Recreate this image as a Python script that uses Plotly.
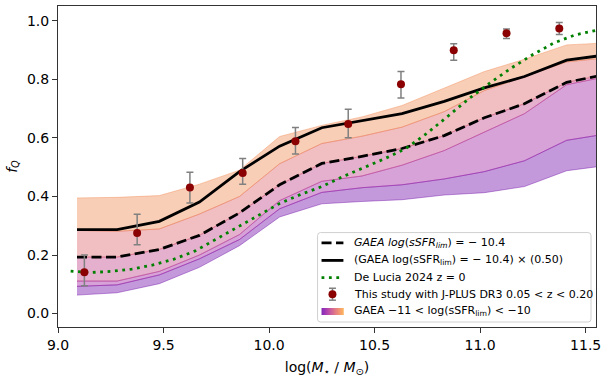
import plotly.graph_objects as go
from plotly.colors import sample_colorscale, unlabel_rgb

# ---- GAEA model: quenched fraction vs stellar mass --------------------------
gaea_logm = [9.09, 9.28, 9.48, 9.67, 9.86, 10.05, 10.25, 10.44, 10.63, 10.83,
             11.02, 11.21, 11.41, 11.60]

# f_Q for thresholds log(sSFR_lim) = -11, -10.8, -10.6, -10.4, -10.2, -10
fq_m110 = [0.063, 0.071, 0.102, 0.158, 0.232, 0.330, 0.375, 0.383, 0.389, 0.405,
           0.413, 0.434, 0.488, 0.506]
fq_m108 = [0.093, 0.098, 0.132, 0.187, 0.253, 0.358, 0.414, 0.430, 0.440, 0.460,
           0.485, 0.522, 0.592, 0.614]
fq_m106 = [0.111, 0.111, 0.144, 0.200, 0.270, 0.386, 0.452, 0.470, 0.507, 0.557,
           0.620, 0.683, 0.782, 0.810]
fq_m104 = [0.193, 0.193, 0.219, 0.267, 0.344, 0.440, 0.513, 0.537, 0.564, 0.608,
           0.669, 0.717, 0.790, 0.818]
fq_m102 = [0.284, 0.281, 0.289, 0.340, 0.400, 0.512, 0.581, 0.606, 0.637, 0.690,
           0.762, 0.809, 0.860, 0.874]
fq_m100 = [0.395, 0.397, 0.403, 0.442, 0.490, 0.605, 0.643, 0.672, 0.711, 0.770,
           0.827, 0.869, 0.918, 0.925]
gaea_levels = [fq_m110, fq_m108, fq_m106, fq_m104, fq_m102, fq_m100]

# rescaled GAEA curve (log sSFR_lim = -10.4, factor 0.50)
fq_scaled = [0.287, 0.287, 0.315, 0.381, 0.485, 0.572, 0.635, 0.659, 0.683, 0.725,
             0.771, 0.810, 0.866, 0.884]

# ---- De Lucia et al. 2024, z = 0 ---------------------------------------------
delucia_logm = [9.06, 9.15, 9.25, 9.35, 9.45, 9.55, 9.65, 9.75, 9.85, 9.95, 10.05,
                10.15, 10.25, 10.35, 10.45, 10.55, 10.65, 10.75, 10.85, 10.95,
                11.05, 11.15, 11.25, 11.35, 11.45, 11.55, 11.65]
delucia_fq = [0.145, 0.140, 0.144, 0.152, 0.166, 0.186, 0.214, 0.255, 0.295, 0.335,
              0.376, 0.407, 0.434, 0.468, 0.500, 0.530, 0.565, 0.617, 0.676, 0.736,
              0.790, 0.840, 0.885, 0.925, 0.952, 0.968, 0.975]

# ---- J-PLUS DR3 measurements, 0.05 < z < 0.20 -------------------------------
jplus_logm = [9.125, 9.375, 9.625, 9.875, 10.125, 10.375, 10.625, 10.875, 11.125, 11.375]
jplus_fq = [0.141, 0.275, 0.431, 0.480, 0.589, 0.648, 0.784, 0.900, 0.958, 0.974]
jplus_err_hi = [0.059, 0.064, 0.052, 0.050, 0.047, 0.050, 0.043, 0.022, 0.014, 0.021]
jplus_err_lo = [0.046, 0.040, 0.053, 0.038, 0.044, 0.047, 0.047, 0.034, 0.018, 0.020]

x_ticks = [9.0, 9.5, 10.0, 10.5, 11.0, 11.5]
y_ticks = [0.0, 0.2, 0.4, 0.6, 0.8, 1.0]

legend_labels = [
    "<i>GAEA log</i>(<i>sSFR</i><sub><i>lim</i></sub>) = − 10.4",
    "(GAEA log(sSFR<sub>lim</sub>) = − 10.4) × (0.50)",
    "De Lucia 2024 z = 0",
    "This study with J-PLUS DR3 0.05 < z < 0.20",
    "GAEA −11 < log(sSFR<sub>lim</sub>) < −10",
]

FONT = "DejaVu Sans"
W, H = 606, 378
ML, MR, MT, MB = 58, 7, 5, 50
PW, PH = W - ML - MR, H - MT - MB


def rgba(c, a):
    r, g, b = unlabel_rgb(c)
    return f"rgba({int(r)},{int(g)},{int(b)},{a})"


def px(xp):
    return (xp - ML) / PW


def py(yp):
    return (H - MB - yp) / PH


fig = go.Figure()

# shaded GAEA bands between successive sSFR thresholds
band_cols = sample_colorscale("Plasma", [0.2, 0.33, 0.45, 0.58, 0.70])
for i in range(len(gaea_levels) - 1):
    lo, hi = gaea_levels[i], gaea_levels[i + 1]
    col = rgba(band_cols[i], 0.4)
    fig.add_trace(go.Scatter(
        x=gaea_logm + gaea_logm[::-1], y=hi + lo[::-1],
        fill="toself", fillcolor=col, mode="lines",
        line=dict(color=col, width=1), hoverinfo="skip", showlegend=False))

fig.add_trace(go.Scatter(x=gaea_logm, y=fq_m104, mode="lines",
                         line=dict(color="black", width=2.8, dash="10px,4.5px"),
                         showlegend=False))
fig.add_trace(go.Scatter(x=gaea_logm, y=fq_scaled, mode="lines",
                         line=dict(color="black", width=2.8), showlegend=False))
fig.add_trace(go.Scatter(x=delucia_logm, y=delucia_fq, mode="lines",
                         line=dict(color="#008000", width=2.8, dash="2.8px,4.6px"),
                         showlegend=False))
fig.add_trace(go.Scatter(
    x=jplus_logm, y=jplus_fq, mode="markers",
    marker=dict(color="#8b0000", size=8),
    error_y=dict(type="data", symmetric=False, array=jplus_err_hi,
                 arrayminus=jplus_err_lo, color="#808080", thickness=1.5, width=3.5),
    showlegend=False))

# ---- legend box drawn by hand (needs a gradient patch) ----------------------
shapes = []
bx0, bx1, by0, by1, rr = 319, 594, 233, 323, 3
path = (f"M {px(bx0 + rr)} {py(by0)} L {px(bx1 - rr)} {py(by0)} "
        f"Q {px(bx1)} {py(by0)} {px(bx1)} {py(by0 + rr)} "
        f"L {px(bx1)} {py(by1 - rr)} Q {px(bx1)} {py(by1)} {px(bx1 - rr)} {py(by1)} "
        f"L {px(bx0 + rr)} {py(by1)} Q {px(bx0)} {py(by1)} {px(bx0)} {py(by1 - rr)} "
        f"L {px(bx0)} {py(by0 + rr)} Q {px(bx0)} {py(by0)} {px(bx0 + rr)} {py(by0)} Z")
shapes.append(dict(type="path", xref="paper", yref="paper", path=path,
                   fillcolor="rgba(255,255,255,0.8)", line=dict(color="#d0d0d0", width=1)))

rows = [243.3, 261.0, 278.3, 295.0, 312.3]
hx0, hx1 = 323, 345
shapes.append(dict(type="line", xref="paper", yref="paper", x0=px(hx0), x1=px(hx1),
                   y0=py(rows[0]), y1=py(rows[0]),
                   line=dict(color="black", width=2.8, dash="10px,4.5px")))
shapes.append(dict(type="line", xref="paper", yref="paper", x0=px(hx0), x1=px(hx1),
                   y0=py(rows[1]), y1=py(rows[1]), line=dict(color="black", width=2.8)))
shapes.append(dict(type="line", xref="paper", yref="paper", x0=px(hx0), x1=px(hx1),
                   y0=py(rows[2]), y1=py(rows[2]),
                   line=dict(color="#008000", width=2.8, dash="2.8px,4.6px")))
cx, cy = (hx0 + hx1) / 2, rows[3]
shapes.append(dict(type="line", xref="paper", yref="paper", x0=px(cx), x1=px(cx),
                   y0=py(cy - 6), y1=py(cy + 6), line=dict(color="#808080", width=1.5)))
for cyy in (cy - 6, cy + 6):
    shapes.append(dict(type="line", xref="paper", yref="paper", x0=px(cx - 3.5),
                       x1=px(cx + 3.5), y0=py(cyy), y1=py(cyy),
                       line=dict(color="#808080", width=1.5)))
shapes.append(dict(type="circle", xref="paper", yref="paper", x0=px(cx - 4), x1=px(cx + 4),
                   y0=py(cy - 4), y1=py(cy + 4), fillcolor="#8b0000",
                   line=dict(color="#8b0000", width=0)))
n_grad = 22
grad_cols = sample_colorscale("Plasma", [0.2 + 0.58 * k / (n_grad - 1) for k in range(n_grad)])
gw = (hx1 - hx0) / n_grad
for k, c in enumerate(grad_cols):
    shapes.append(dict(type="rect", xref="paper", yref="paper",
                       x0=px(hx0 + k * gw), x1=px(hx0 + (k + 1) * gw + 0.3),
                       y0=py(rows[4] + 3.5), y1=py(rows[4] - 3.5),
                       fillcolor=rgba(c, 0.85), line=dict(width=0)))

annotations = []
for yrow, lab in zip(rows, legend_labels):
    annotations.append(dict(xref="paper", yref="paper", x=px(354), y=py(yrow),
                            xanchor="left", yanchor="middle", text=lab, showarrow=False,
                            font=dict(family=FONT, size=11, color="black")))

axis_common = dict(showline=True, mirror=True, linecolor="#333333", linewidth=1,
                   ticks="outside", ticklen=5, tickwidth=1, tickcolor="#333333",
                   showgrid=False, zeroline=False,
                   tickfont=dict(family=FONT, size=14, color="black"))

fig.update_layout(
    width=W, height=H,
    margin=dict(l=ML, r=MR, t=MT, b=MB),
    paper_bgcolor="white", plot_bgcolor="white",
    font=dict(family=FONT, color="black"),
    xaxis=dict(range=[9.0, 11.549], tickvals=x_ticks,
               ticktext=[f"{v:.1f}" for v in x_ticks],
               title=dict(text="log(<i>M</i><sub>⋆</sub> / <i>M</i><sub>⊙</sub>)",
                          font=dict(family=FONT, size=14), standoff=10),
               **axis_common),
    yaxis=dict(range=[-0.046, 1.051], tickvals=y_ticks,
               ticktext=[f"{v:.1f}" for v in y_ticks],
               title=dict(text="<i>f</i><sub><i>Q</i></sub>",
                          font=dict(family=FONT, size=14), standoff=6),
               **axis_common),
    shapes=shapes, annotations=annotations, showlegend=False,
)

fig.write_html("out.html")
